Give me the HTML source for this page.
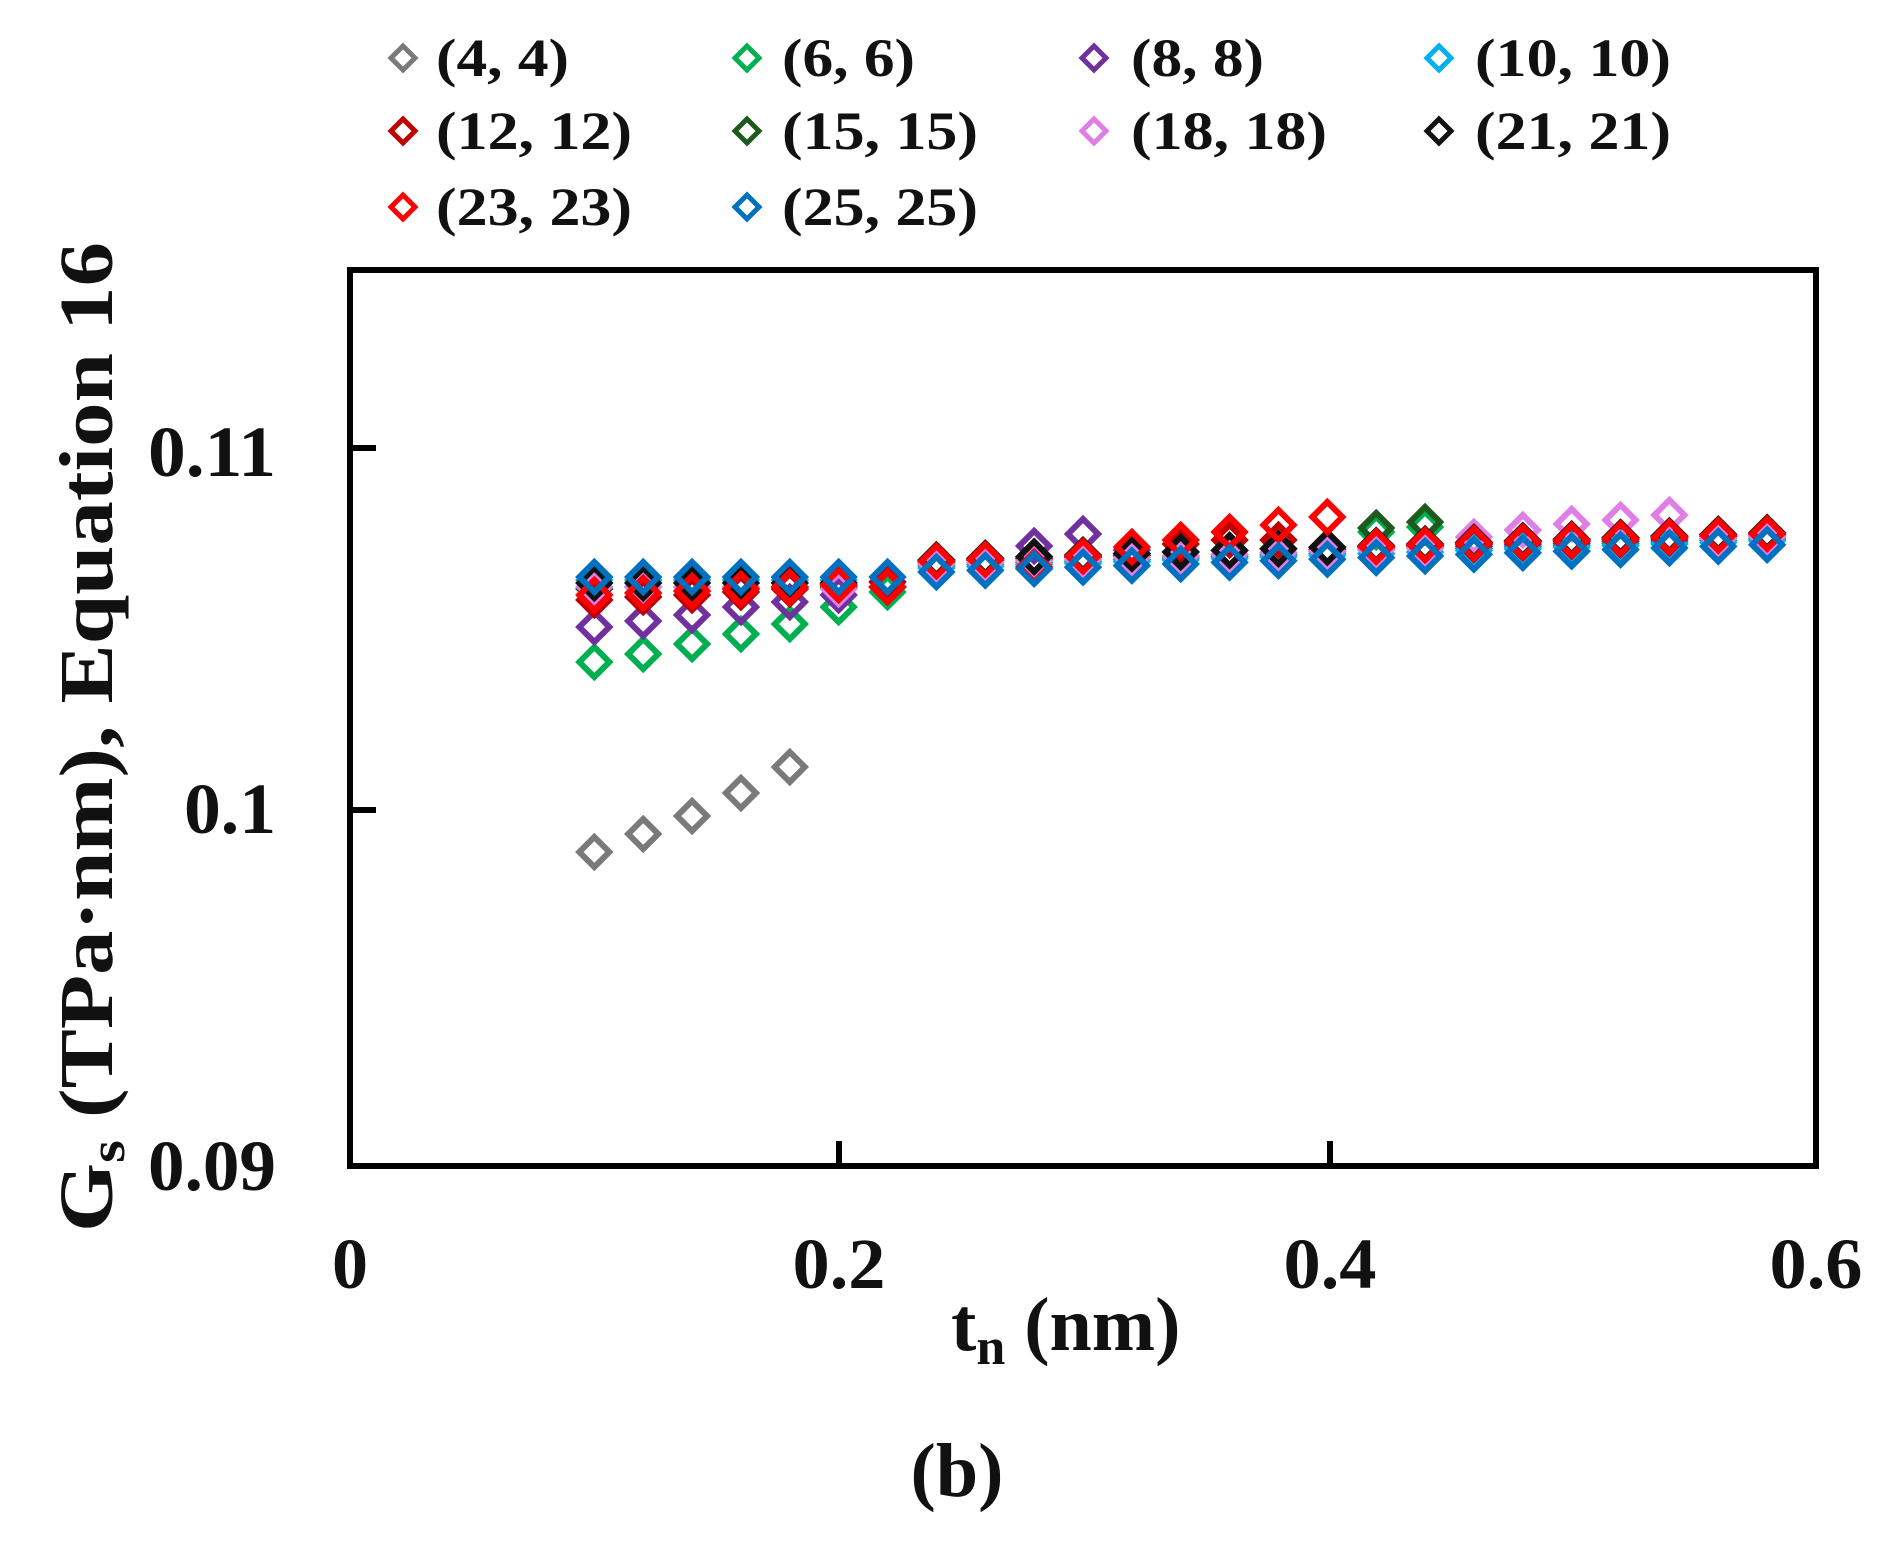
<!DOCTYPE html>
<html><head><meta charset="utf-8"><style>html,body{margin:0;padding:0;background:#fff}svg{display:block}</style></head>
<body>
<svg id="s" width="1889" height="1549" viewBox="0 0 1889 1549" xmlns="http://www.w3.org/2000/svg" font-family="Liberation Serif, serif" font-weight="bold">
<rect x="0" y="0" width="1889" height="1549" fill="#fff"/>
<g id="pts"></g>
<rect x="350" y="270" width="1466" height="896" fill="none" stroke="#000" stroke-width="6"/>
<path d="M350 448h26M350 810h26M839 1166v-25M1330 1166v-25" stroke="#000" stroke-width="6"/>
<g font-size="72" fill="#111">
<text x="276" y="476" text-anchor="end" textLength="128" lengthAdjust="spacingAndGlyphs">0.11</text>
<text x="276" y="833" text-anchor="end" textLength="92" lengthAdjust="spacingAndGlyphs">0.1</text>
<text x="276" y="1190" text-anchor="end" textLength="128" lengthAdjust="spacingAndGlyphs">0.09</text>
<text x="350" y="1288" text-anchor="middle">0</text>
<text x="839" y="1288" text-anchor="middle" textLength="93" lengthAdjust="spacingAndGlyphs">0.2</text>
<text x="1330" y="1288" text-anchor="middle" textLength="93" lengthAdjust="spacingAndGlyphs">0.4</text>
<text x="1816" y="1288" text-anchor="middle" textLength="93" lengthAdjust="spacingAndGlyphs">0.6</text>
<text x="951" y="1350" font-size="76">t<tspan font-size="52" dy="14">n</tspan><tspan dy="-14"> (nm)</tspan></text>
<text x="957" y="1496" font-size="76" text-anchor="middle">(b)</text>
<text transform="translate(112,1232) rotate(-90)" font-size="76" textLength="990" lengthAdjust="spacingAndGlyphs">G<tspan font-size="50" dy="12">s</tspan><tspan dy="-12"> (TPa·nm),  Equation 16</tspan></text>
</g>
<g id="leg" font-size="54" fill="#111"></g>
</svg>
<script>
var C={g:"#7a7a7a",gr:"#00b050",pu:"#7030a0",cy:"#00b0f0",dr:"#c00000",dg:"#1e5a1e",pk:"#e07ee8",bk:"#111",rd:"#ff0000",bl:"#0070c0"};
function X(t){return 350+t/0.6*1466;}
function base(t){return 570-(t-0.24)*80;}
var T=[];for(var i=0;i<25;i++)T.push(+(0.1+0.02*i).toFixed(2));
var S={};
S.g={0.1:852,0.12:834,0.14:816,0.16:793,0.18:767};
S.gr={0.1:662,0.12:654,0.14:644,0.16:634,0.18:624,0.2:607,0.22:592,0.42:532,0.44:527};
S.pu={0.1:627,0.12:621,0.14:615,0.16:607,0.18:602,0.2:595,0.26:560,0.28:546,0.3:534,0.32:550};
S.cy={0.1:580,0.12:580,0.14:580,0.16:580,0.18:580,0.2:580,0.22:582};
S.dr={0.1:600,0.12:597,0.14:595,0.16:592,0.18:589,0.2:585,0.22:582,0.34:544,0.36:540,0.38:540};
S.dg={0.1:589,0.12:587,0.14:587,0.16:587,0.18:587,0.2:587,0.42:528,0.44:522};
S.pk={0.2:589,0.46:537,0.48:530,0.5:524,0.52:520,0.54:515};
S.bk={0.1:583,0.12:583,0.14:583,0.16:583,0.18:583,0.2:583};
S.rd={0.1:595,0.12:593,0.14:591,0.16:589,0.18:587,0.2:585,0.28:567,0.32:547,0.34:540,0.36:532,0.38:525,0.4:517};
S.bl={0.1:577,0.12:577,0.14:577,0.16:577,0.18:577,0.2:577,0.22:577};
var off={cy:-2,dr:-8,dg:-10,pk:-6,bk:-10,rd:-9,bl:2,gr:-4,pu:-6};
var order=["g","gr","pu","cy","dr","dg","pk","bk","rd","bl"];
var h="";
order.forEach(function(k){
 T.forEach(function(t){
  var y;
  if(S[k][t]!==undefined) y=S[k][t];
  else if(k==="g") return;
  else if(t<0.24 && k!=="gr" && k!=="pu") y=587;
  else if(t<0.24) return;
  else y=base(t)+(off[k]||0);
  var x=X(t),r=15;
  h+='<path d="M'+x+' '+(y-r)+'L'+(x+r)+' '+y+'L'+x+' '+(y+r)+'L'+(x-r)+' '+y+'Z" fill="none" stroke="'+C[k]+'" stroke-width="6"/>';
 });
});
document.getElementById("pts").innerHTML=h;
var L=[["g","(4, 4)"],["gr","(6, 6)"],["pu","(8, 8)"],["cy","(10, 10)"],["dr","(12, 12)"],["dg","(15, 15)"],["pk","(18, 18)"],["bk","(21, 21)"],["rd","(23, 23)"],["bl","(25, 25)"]];
var mx=[403,747,1094,1439],tx=[436,782,1131,1475],ry=[58,131,207];
var lh="";
L.forEach(function(e,i){
 var c=i%4,r=Math.floor(i/4),x=mx[c],y=ry[r],s=12;
 lh+='<path d="M'+x+' '+(y-s)+'L'+(x+s)+' '+y+'L'+x+' '+(y+s)+'L'+(x-s)+' '+y+'Z" fill="none" stroke="'+C[e[0]]+'" stroke-width="5"/>';
 var w=e[1].length>6?196:133;
 lh+='<text x="'+tx[c]+'" y="'+(y+18)+'" textLength="'+w+'" lengthAdjust="spacingAndGlyphs">'+e[1]+'</text>';
});
document.getElementById("leg").innerHTML=lh;
</script>
</body></html>
